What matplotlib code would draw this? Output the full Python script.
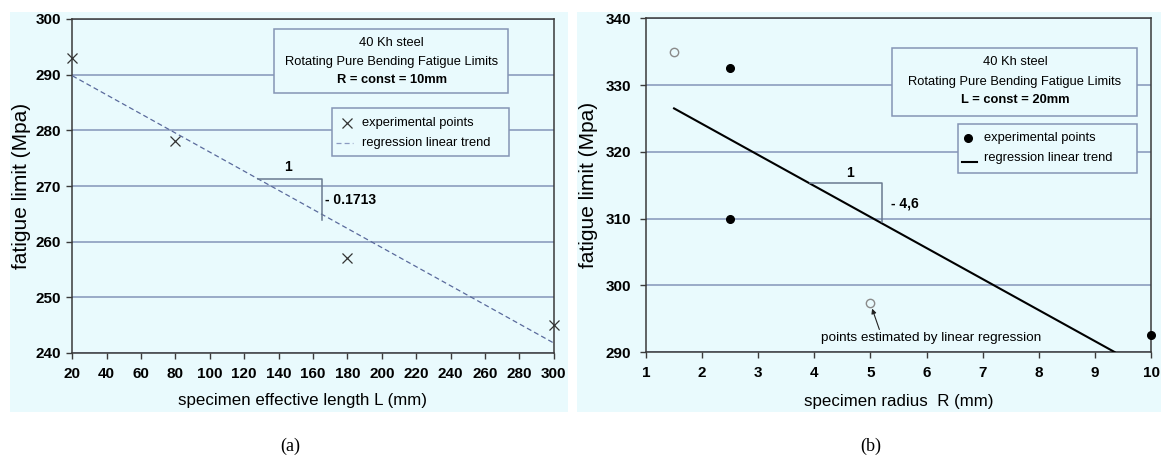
import matplotlib
matplotlib.use("Agg")
import matplotlib.pyplot as plt
from matplotlib.patches import Rectangle
from matplotlib.lines import Line2D

# ---------------- data ----------------
a_L = [20, 80, 180, 300]
a_sigma = [293, 278, 257, 245]
a_trend_L = [20, 300]
a_trend_sigma = [289.8, 241.8]
a_slope_label = "- 0.1713"
a_xticks = list(range(20, 301, 20))
a_yticks = [240, 250, 260, 270, 280, 290, 300]

b_R_exp = [2.5, 2.5, 10]
b_sigma_exp = [332.5, 310, 292.5]
b_R_est = [1.5, 5]
b_sigma_est = [335, 297.3]
b_trend_R = [1.5, 9.35]
b_trend_sigma = [326.5, 290]
b_slope_label = "- 4,6"
b_xticks = list(range(1, 11))
b_yticks = [290, 300, 310, 320, 330, 340]

# ---------------- style ----------------
W, H = 1161, 457
SANS = ['Liberation Sans', 'DejaVu Sans']
SERIF = ['Liberation Serif', 'DejaVu Serif']
plt.rcParams['font.family'] = SANS
BG = '#E9FAFD'
GRID = '#8C9DBE'
BOXEDGE = '#8595B5'
SPINE = '#3A3A3A'
FS_BOX = 9.3
FS_TICK = 11
FS_XLAB = 12.2
FS_YLAB = 15
FS_SLOPE = 10

fig = plt.figure(figsize=(W / 100, H / 100), dpi=100)


def fx(x):
    return x / W


def fy(y):
    return 1 - y / H


def add_axes_px(l, t, r, b):
    return fig.add_axes([fx(l), fy(b), (r - l) / W, (b - t) / H])


def rect_px(l, t, r, b, **kw):
    p = Rectangle((fx(l), fy(b)), (r - l) / W, (b - t) / H,
                  transform=fig.transFigure, **kw)
    fig.add_artist(p)
    return p


# panel backgrounds
rect_px(10, 12, 568, 412, facecolor=BG, edgecolor='none', zorder=-5)
rect_px(577, 12, 1161, 412, facecolor=BG, edgecolor='none', zorder=-5)


def style_axes(ax, xt, yt, xlim, ylim, ypad):
    ax.set_facecolor(BG)
    ax.set_xlim(*xlim)
    ax.set_ylim(*ylim)
    ax.set_xticks(xt)
    ax.set_yticks(yt)
    ax.yaxis.grid(True, color=GRID, linewidth=1.2)
    ax.xaxis.grid(False)
    ax.set_axisbelow(True)
    for s in ax.spines.values():
        s.set_color(SPINE)
        s.set_linewidth(1.1)
    ax.tick_params(axis='x', direction='out', length=4, width=1, color=SPINE,
                   pad=6, labelsize=FS_TICK)
    ax.tick_params(axis='y', direction='out', length=4, width=1, color=SPINE,
                   pad=ypad, labelsize=FS_TICK)
    for lab in ax.get_xticklabels() + ax.get_yticklabels():
        lab.set_fontweight('bold')


# ---------------- panel (a) ----------------
axa = add_axes_px(72.3, 19, 553.7, 353)
style_axes(axa, a_xticks, a_yticks, (20, 300), (240, 300), 4)
axa.plot(a_trend_L, a_trend_sigma, linestyle=(0, (4, 2.5)), color='#5A6A9C',
         linewidth=0.9, zorder=3)
axa.plot(a_L, a_sigma, linestyle='none', marker='x', markersize=6.5,
         markeredgewidth=0.9, color='#333333', clip_on=False, zorder=4)
# slope triangle
axa.plot([128.2, 165.1, 165.1], [271.2, 271.2, 263.9], color='#6A7A90',
         linewidth=1.1, zorder=3)
axa.text(145.7, 273.5, "1", fontsize=FS_SLOPE, fontweight='bold',
         ha='center', va='center')
axa.text(167, 267.5, a_slope_label, fontsize=FS_SLOPE, fontweight='bold',
         ha='left', va='center')

# title box (a)
rect_px(274, 29, 508.3, 92.7, facecolor=BG, edgecolor=BOXEDGE, linewidth=1.1,
        zorder=2)
fig.text(fx(391.7), fy(43.3), "40 Kh steel", ha='center', va='center',
         fontsize=FS_BOX, zorder=3)
fig.text(fx(391.7), fy(61.7), "Rotating Pure Bending Fatigue Limits",
         ha='center', va='center', fontsize=FS_BOX, zorder=3)
fig.text(fx(391.7), fy(80), "R = const = 10mm", ha='center', va='center',
         fontsize=FS_BOX, fontweight='bold', zorder=3)

# legend (a)
rect_px(331.7, 108.3, 509, 155.7, facecolor=BG, edgecolor=BOXEDGE,
        linewidth=1.1, zorder=2)
fig.add_artist(Line2D([fx(346.7)], [fy(123.3)], marker='x', markersize=6.5,
                      markeredgewidth=0.9, color='#333333', linestyle='none',
                      transform=fig.transFigure, zorder=3))
fig.add_artist(Line2D([fx(336), fx(353)], [fy(142.7), fy(142.7)],
                      linestyle=(0, (4, 2.5)), color='#8A9AC0', linewidth=0.9,
                      transform=fig.transFigure, zorder=3))
fig.text(fx(362.3), fy(123.3), "experimental points", ha='left', va='center',
         fontsize=FS_BOX, zorder=3)
fig.text(fx(362.3), fy(142.7), "regression linear trend", ha='left',
         va='center', fontsize=FS_BOX, zorder=3)

fig.text(fx(22), fy(186), "fatigue limit (Mpa)", rotation=90, ha='center',
         va='center', fontsize=FS_YLAB)
fig.text(fx(303), fy(400), "specimen effective length L (mm)", ha='center',
         va='center', fontsize=FS_XLAB)
fig.text(fx(290), fy(446), "(a)", ha='center', va='center', fontsize=13,
         family=SERIF)

# ---------------- panel (b) ----------------
axb = add_axes_px(646, 18.3, 1151, 352)
style_axes(axb, b_xticks, b_yticks, (1, 10), (290, 340), 7)
axb.plot(b_trend_R, b_trend_sigma, color='black', linewidth=1.5, zorder=3)
axb.plot(b_R_exp, b_sigma_exp, linestyle='none', marker='o', markersize=5.5,
         color='black', clip_on=False, zorder=4)
axb.plot(b_R_est, b_sigma_est, linestyle='none', marker='o', markersize=6,
         markerfacecolor='none', markeredgecolor='#8A8A8A',
         markeredgewidth=1.0, clip_on=False, zorder=4)
axb.plot([3.92, 5.2, 5.2], [315.3, 315.3, 309.5], color='#6A7A90',
         linewidth=1.1, zorder=3)
axb.text(4.64, 316.8, "1", fontsize=FS_SLOPE, fontweight='bold', ha='center',
         va='center')
axb.text(5.37, 312.2, b_slope_label, fontsize=FS_SLOPE, fontweight='bold',
         ha='left', va='center')
axb.annotate("points estimated by linear regression",
             xy=(5.03, 296.5), xycoords='data',
             xytext=(931, H - 338.3), textcoords='figure pixels',
             ha='center', va='center', fontsize=9.7,
             arrowprops=dict(arrowstyle='-|>', color='#222222', lw=0.8,
                             shrinkA=0, shrinkB=0, mutation_scale=7,
                             relpos=(0.27, 1.0)))

# title box (b)
rect_px(892.3, 47.7, 1136.7, 116, facecolor=BG, edgecolor=BOXEDGE,
        linewidth=1.1, zorder=2)
fig.text(fx(1015), fy(62.3), "40 Kh steel", ha='center', va='center',
         fontsize=FS_BOX, zorder=3)
fig.text(fx(1015), fy(81.7), "Rotating Pure Bending Fatigue Limits",
         ha='center', va='center', fontsize=FS_BOX, zorder=3)
fig.text(fx(1015), fy(100), "L = const = 20mm", ha='center', va='center',
         fontsize=FS_BOX, fontweight='bold', zorder=3)

# legend (b)
rect_px(957.7, 124, 1136.7, 173.3, facecolor=BG, edgecolor=BOXEDGE,
        linewidth=1.1, zorder=2)
fig.add_artist(Line2D([fx(967.7)], [fy(138.3)], marker='o', markersize=5.5,
                      color='black', linestyle='none',
                      transform=fig.transFigure, zorder=3))
fig.add_artist(Line2D([fx(961.7), fx(976.7)], [fy(162), fy(162)],
                      color='black', linewidth=1.5,
                      transform=fig.transFigure, zorder=3))
fig.text(fx(984), fy(138.3), "experimental points", ha='left', va='center',
         fontsize=FS_BOX, zorder=3)
fig.text(fx(984), fy(158.3), "regression linear trend", ha='left',
         va='center', fontsize=FS_BOX, zorder=3)

fig.text(fx(588), fy(185), "fatigue limit (Mpa)", rotation=90, ha='center',
         va='center', fontsize=FS_YLAB)
fig.text(fx(899), fy(401.7), "specimen radius  R (mm)", ha='center',
         va='center', fontsize=FS_XLAB)
fig.text(fx(871), fy(446), "(b)", ha='center', va='center', fontsize=13,
         family=SERIF)

fig.savefig("out.png", dpi=100, facecolor='white')
